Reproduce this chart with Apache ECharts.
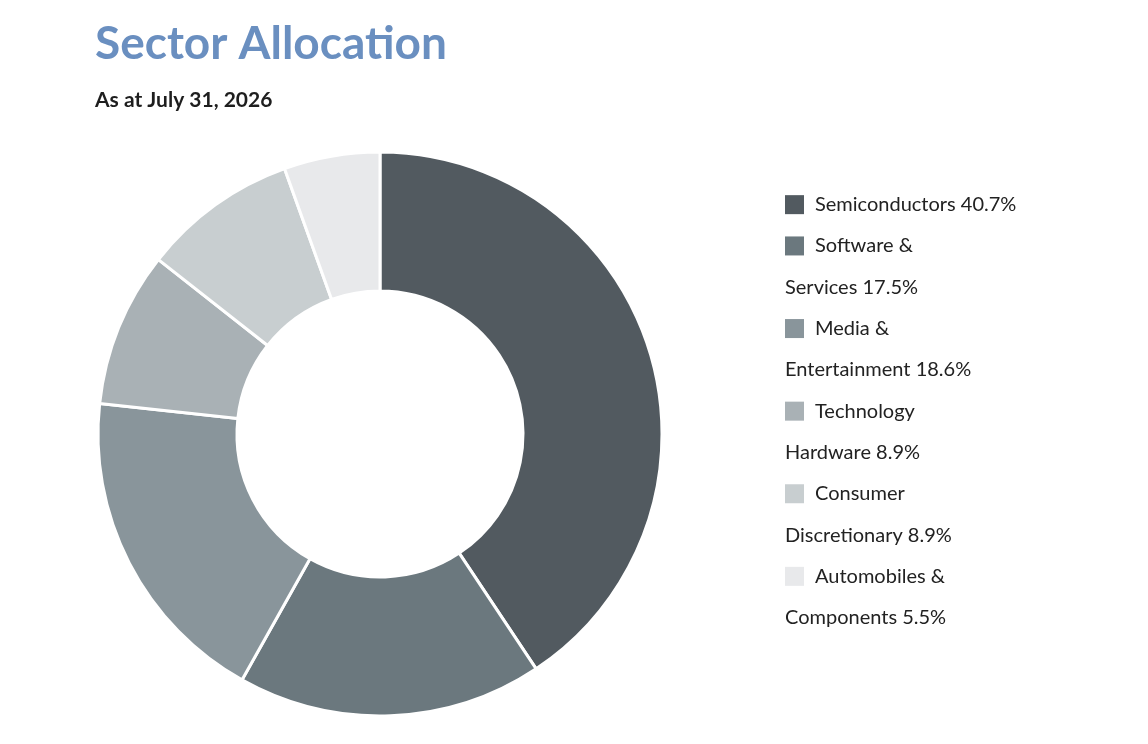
<!DOCTYPE html>
<html>
<head>
<meta charset="utf-8">
<title>Sector Allocation</title>
<script src="https://cdn.jsdelivr.net/npm/echarts@6/dist/echarts.min.js"></script>
<style>
  html, body { margin: 0; padding: 0; background: #fff; }
  #main { width: 1148px; height: 744px; }
</style>
</head>
<body>
<div id="main"></div>
<script>
var sectors = ['Semiconductors', 'Software & Services', 'Media & Entertainment',
  'Technology Hardware', 'Consumer Discretionary', 'Automobiles & Components'];
var weights = [40.7, 17.5, 18.6, 8.9, 8.9, 5.5];
var colors = ['#525a60', '#6b787e', '#89959b', '#a9b1b5', '#c8ced0', '#e8e9eb'];

var fontFam = 'Lato, "Open Sans", sans-serif';

// rich styles: one square per sector so the icon sits inline with the text
var rich = {
  g: { width: 11, height: 19 },
  t: { fontSize: 20, color: '#222', lineHeight: 41.3, fontFamily: fontFam }
};
sectors.forEach(function (s, i) {
  rich['i' + i] = { width: 19, height: 19, backgroundColor: colors[i] };
});

function legendText(name) {
  var i = sectors.indexOf(name);
  var label = name + ' ' + weights[i].toFixed(1) + '%';
  if (label.length <= 20) {
    return '{i' + i + '|}{g|}{t|' + label + '}';
  }
  var words = name.split(' ');
  var last = words.pop();
  return '{i' + i + '|}{g|}{t|' + words.join(' ') + '}\n{t|' + last + ' ' + weights[i].toFixed(1) + '%}';
}

var myChart = echarts.init(document.getElementById('main'));
var option = {
  animation: false,
  color: colors,
  title: {
    text: 'Sector Allocation',
    subtext: 'As at July 31, 2026',
    left: 95,
    top: 21,
    padding: 0,
    itemGap: 23,
    textStyle: { fontSize: 46, fontWeight: 'bold', color: '#6a8fc0', fontFamily: fontFam },
    subtextStyle: { fontSize: 21, fontWeight: 'bold', color: '#1e1e1e', fontFamily: fontFam }
  },
  legend: {
    orient: 'vertical',
    left: 779,
    top: 184,
    padding: 0,
    itemGap: 0,
    itemWidth: 0,
    itemHeight: 0,
    icon: 'rect',
    selectedMode: false,
    data: sectors,
    formatter: legendText,
    textStyle: { fontSize: 20, color: '#222', lineHeight: 41.3, fontFamily: fontFam, rich: rich }
  },
  series: [{
    type: 'pie',
    center: [380, 434],
    radius: [143, 282],
    startAngle: 90,
    clockwise: true,
    label: { show: false },
    labelLine: { show: false },
    emphasis: { disabled: true },
    itemStyle: { borderColor: '#fff', borderWidth: 3 },
    data: sectors.map(function (s, i) { return { name: s, value: weights[i] }; })
  }]
};
myChart.setOption(option);
</script>
</body>
</html>
